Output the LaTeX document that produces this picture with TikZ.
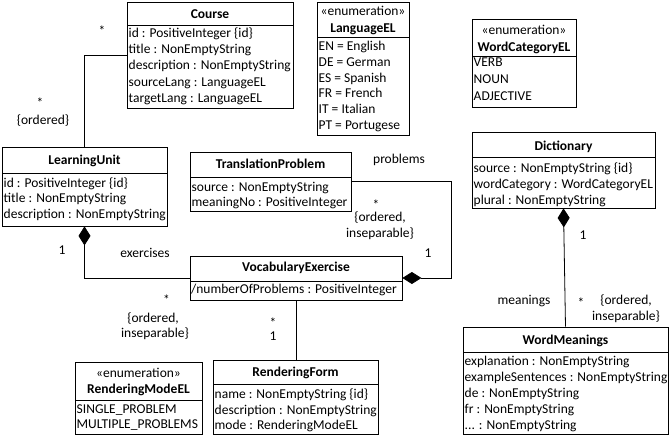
\documentclass[tikz,border=0pt]{standalone}
\usepackage{fontspec}
\setmainfont{Carlito}
\usetikzlibrary{arrows.meta,calc}
\newcommand\attrfont{\fontsize{13.5}{16}\selectfont}
\newcommand\titlefont{\fontsize{13.5}{16}\selectfont\bfseries}
\tikzset{
  box/.style={draw, line width=0.8pt, inner sep=0pt, fill=white},
  sepline/.style={line width=0.8pt},
  attr/.style={anchor=base west, inner sep=0pt, font=\attrfont},
  ttl/.style={anchor=base, inner sep=0pt, font=\titlefont},
  stereo/.style={anchor=base, inner sep=0pt, font=\attrfont},
  lbl/.style={anchor=base, inner sep=0pt, font=\attrfont},
  conn/.style={line width=0.8pt},
  comp/.style={conn, {Diamond[length=19pt,width=12pt]}-},
  compend/.style={conn, -{Diamond[length=19pt,width=12pt]}},
}
% #1 name, #2 x1, #3 top, #4 x2, #5 bottom, #6 separator y
\newcommand\umlbox[6]{%
  \node[box, minimum width={#4-#2}, minimum height={#5-#3}] (#1) at ({(#2+#4)/2},{-(#3+#5)/2}) {};
  \draw[sepline] (#2,-#6) -- (#4,-#6);
}
% #1 name prefix, #2 x, #3 first row centre, #4 step, #5 list
\newcommand\attrrows[5]{%
  \foreach \t [count=\i] in {#5} {\node[attr] (#1\i) at (#2,{-(#3+(\i-1)*#4+4.5)}) {\t};}
}
\begin{document}
\begin{tikzpicture}[x=1pt,y=1pt]
\fill[white] (0,0) rectangle (670,-436);
\useasboundingbox (0,0) rectangle (670,-436);

% Course
\umlbox{course}{127}{2}{293}{108}{25}
\node[ttl] (courset) at (210,-18.5) {Course};
\attrrows{coursea}{128.5}{33}{16.2}{id : PositiveInteger \{id\},title : NonEmptyString,description : NonEmptyString,sourceLang : LanguageEL,targetLang : LanguageEL}

% LanguageEL
\umlbox{lang}{317}{2}{409}{135}{37}
\node[stereo] (langs) at (363,-15.5) {«enumeration»};
\node[ttl] (langt) at (363,-32.5) {LanguageEL};
\attrrows{langa}{318.5}{46.5}{15.6}{EN = English,DE = German,ES = Spanish,FR = French,IT = Italian,PT = Portugese}

% WordCategoryEL
\umlbox{wcat}{472}{19}{576}{107}{56}
\node[stereo] (wcats) at (524,-35) {«enumeration»};
\node[ttl] (wcatt) at (524,-52) {WordCategoryEL};
\attrrows{wcata}{473.5}{62}{17}{VERB,NOUN,ADJECTIVE}

% LearningUnit
\umlbox{lu}{2}{147}{167}{226}{173}
\node[ttl] (lut) at (84.5,-164.5) {LearningUnit};
\attrrows{lua}{3.5}{182.5}{15.5}{id : PositiveInteger \{id\},title : NonEmptyString,description : NonEmptyString}

% TranslationProblem
\umlbox{tp}{190}{152}{351}{211}{177}
\node[ttl] (tpt) at (270.5,-168.5) {TranslationProblem};
\attrrows{tpa}{191.5}{187}{15}{source : NonEmptyString,meaningNo : PositiveInteger}

% Dictionary
\umlbox{dict}{472}{132}{655}{208}{157}
\node[ttl] (dictt) at (563.5,-150) {Dictionary};
\attrrows{dicta}{473.5}{167.5}{16}{source : NonEmptyString \{id\},wordCategory : WordCategoryEL,plural : NonEmptyString}

% VocabularyExercise
\umlbox{ve}{190}{256}{402}{300}{281}
\node[ttl] (vet) at (296,-271.5) {VocabularyExercise};
\attrrows{vea}{191}{289}{16}{/numberOfProblems : PositiveInteger}

% RenderingModeEL
\umlbox{rmode}{75}{362}{202}{434}{400}
\node[stereo] (rmodes) at (138.5,-377.5) {«enumeration»};
\node[ttl] (rmodet) at (138.5,-393) {RenderingModeEL};
\attrrows{rmodea}{76.5}{408.5}{15}{SINGLE\_PROBLEM,MULTIPLE\_PROBLEMS}

% RenderingForm
\umlbox{rf}{213}{360}{378}{434}{384.5}
\node[ttl] (rft) at (295.5,-376.5) {RenderingForm};
\attrrows{rfa}{214.5}{394}{15.5}{name : NonEmptyString \{id\},description : NonEmptyString,mode : RenderingModeEL}

% WordMeanings
\umlbox{wm}{463}{327}{668}{434}{352}
\node[ttl] (wmt) at (565.5,-344.5) {WordMeanings};
\attrrows{wma}{464.5}{360.5}{16}{explanation : NonEmptyString,exampleSentences : NonEmptyString,de : NonEmptyString,fr : NonEmptyString,{.}{.}{.} : NonEmptyString}

% connectors
\coordinate (tpx) at (451,0);
\draw[conn] (course.west) -| (lu.north);
\draw[comp] (lu.south) |- (ve.west);
\draw[compend] (tp.east) -- (tp.east -| tpx) |- (ve.east);
\draw[conn] (ve.south) -- (ve.south |- rf.north);
\draw[comp] (dict.south) -- (wm.north);

% labels
\node[lbl] (l1) at (102,-36) {*};
\node[lbl] (l2) at (40,-107) {*};
\node[lbl] (l3) at (43,-124.5) {\{ordered\}};
\node[lbl] (l4) at (62,-254.5) {1};
\node[lbl] (l5) at (145,-257.5) {exercises};
\node[lbl] (l6) at (166.5,-304) {*};
\node[lbl] (l7) at (153,-322) {\{ordered,};
\node[lbl] (l8) at (155,-337) {inseparable\}};
\node[lbl] (l9) at (273,-327.5) {*};
\node[lbl] (l10) at (273,-340.5) {1};
\node[lbl] (l11) at (399,-163.5) {problems};
\node[lbl] (l12) at (376,-209.5) {*};
\node[lbl] (l13) at (380,-221.5) {\{ordered,};
\node[lbl] (l14) at (380,-237) {inseparable\}};
\node[lbl] (l15) at (428,-257.5) {1};
\node[lbl] (l16) at (583,-239.5) {1};
\node[lbl] (l17) at (524,-304.5) {meanings};
\node[lbl] (l18) at (581,-307) {*};
\node[lbl] (l19) at (626,-304.5) {\{ordered,};
\node[lbl] (l20) at (626,-320) {inseparable\}};
\end{tikzpicture}
\end{document}
